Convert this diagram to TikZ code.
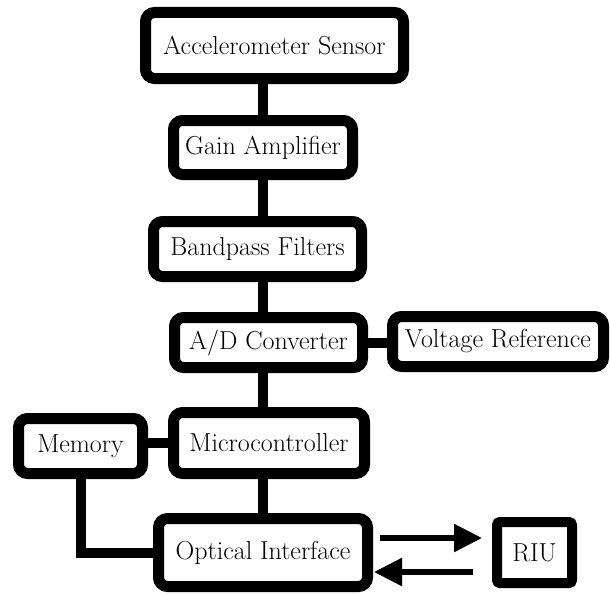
\documentclass[tikz,border=0pt]{standalone}
\usepackage{fontspec}
\usepackage{tikz}
\usetikzlibrary{arrows.meta}

\begin{document}
\begin{tikzpicture}[x=1pt, y=-1pt,
  bloque/.style={draw, line width=11pt, rounded corners=9pt, fill=white,
    inner sep=0pt, font=\fontsize{26}{30}\selectfont},
  enlace/.style={line width=10pt},
  flecha/.style={line width=5.5pt, -{Triangle[length=28pt,width=27pt]}}]

\useasboundingbox (0,0) rectangle (610,594);

% Cadena principal
\node[bloque, minimum width=258pt, minimum height=66pt] (accel) at (274.5,45.5) {Accelerometer Sensor};
\node[bloque, minimum width=179pt, minimum height=54pt] (gain) at (263,147.5) {Gain Amplifier};
\node[bloque, minimum width=208pt, minimum height=55pt] (bandpass) at (257.5,249) {Bandpass Filters};
\node[bloque, minimum width=188pt, minimum height=50pt] (adc) at (268.5,342.5) {A/D Converter};
\node[bloque, minimum width=211pt, minimum height=50pt] (vref) at (498,341.5) {Voltage Reference};
\node[bloque, minimum width=191pt, minimum height=61pt] (micro) at (269,443) {Microcontroller};
\node[bloque, minimum width=124pt, minimum height=55pt] (memory) at (80.5,446) {Memory};
\node[bloque, minimum width=209pt, minimum height=68pt] (optical) at (263,552.5) {Optical Interface};

% Unidad remota
\node[bloque, line width=10pt, rounded corners=3pt, minimum width=75pt, minimum height=61pt] (riu) at (534.5,552.5) {RIU};

% Enlaces
\draw[enlace] (optical.north |- accel.south) -- (optical.north |- gain.north);
\draw[enlace] (optical.north |- gain.south) -- (optical.north |- bandpass.north);
\draw[enlace] (optical.north |- bandpass.south) -- (optical.north |- adc.north);
\draw[enlace] (optical.north |- adc.south) -- (optical.north |- micro.north);
\draw[enlace] (optical.north |- micro.south) -- (optical.north);
\draw[enlace] (adc.east) -- (adc.east -| vref.west);
\draw[enlace] (micro.west) -- (micro.west -| memory.east);
\draw[enlace] (memory.south) |- (optical.west);

% Flechas
\draw[flecha, shorten <=7pt, shorten >=10pt] ([yshift=14.5pt]optical.east) -- ([yshift=14.5pt]riu.west);
\draw[flecha, shorten <=19pt, shorten >=1pt] ([yshift=-19.5pt]riu.west) -- ([yshift=-19.5pt]optical.east);

\end{tikzpicture}
\end{document}
